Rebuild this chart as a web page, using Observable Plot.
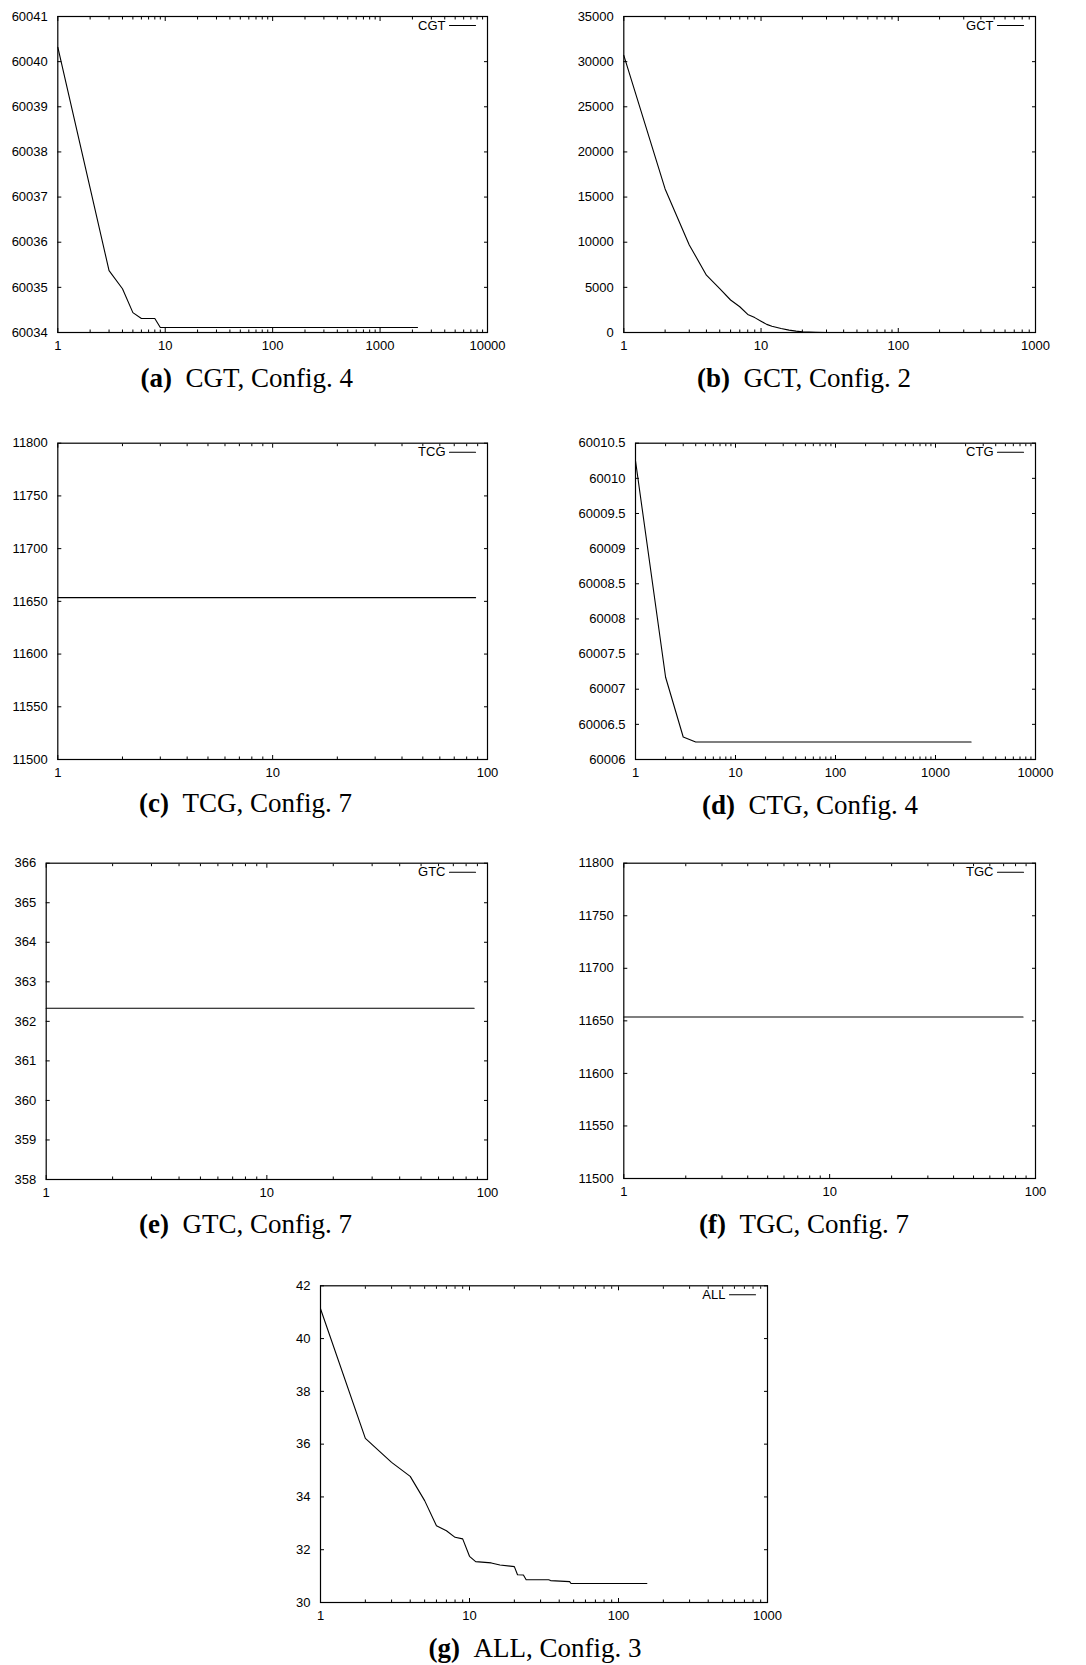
<!DOCTYPE html>
<html><head><meta charset="utf-8">
<script src="https://cdn.jsdelivr.net/npm/d3@7"></script>
<script src="https://cdn.jsdelivr.net/npm/@observablehq/plot@0.6"></script>
<style>
body{margin:0;background:#fff;}
#page{position:relative;width:1086px;height:1665px;overflow:hidden;background:#fff}
.panel{position:absolute}
.cap{position:absolute;font-family:"Liberation Serif","Times New Roman",serif;font-size:27px;line-height:27px;white-space:nowrap;color:#000;transform:translateX(-50%)}
.cap b{font-weight:bold}
</style></head><body><div id="page"></div><script>
// ---------- data ----------
const cgtX = [1, 2, 3, 4, 5, 6, 8, 9, 2230];
const cgtY = [60040.32, 60037.2, 60035.37, 60034.97, 60034.44, 60034.31, 60034.31, 60034.11, 60034.11];

const gctX = [1, 2, 3, 4, 5, 6, 7, 8, 9, 10, 11, 12, 14, 16, 18, 20, 25, 30, 270];
const gctY = [30700, 15900, 9700, 6350, 4850, 3600, 2850, 2000, 1650, 1250, 900, 700, 450, 260, 150, 70, 30, 0, 0];

const tcgX = [1, 88];
const tcgY = [11653.5, 11653.5];

const ctgX = [1, 2, 3, 4, 2270];
const ctgY = [60010.25, 60007.17, 60006.32, 60006.25, 60006.25];

const gtcX = [1, 87];
const gtcY = [362.33, 362.33];

const tgcX = [1, 87];
const tgcY = [11653.6, 11653.6];

const allX = [1, 2, 3, 4, 5, 6, 7, 8, 9, 10, 11, 14, 16, 20, 21, 23, 24, 34, 35, 47, 48, 155];
const allY = [41.13, 36.22, 35.31, 34.78, 33.86, 32.91, 32.72, 32.47, 32.41, 31.75, 31.55, 31.50, 31.42, 31.36, 31.05, 31.04, 30.86, 30.86, 30.83, 30.79, 30.72, 30.72];

// tick labels
const xTicks4 = [1, 10, 100, 1000, 10000];
const xTicks3 = [1, 10, 100, 1000];
const xTicks2 = [1, 10, 100];
const yTicksCGT = [60034, 60035, 60036, 60037, 60038, 60039, 60040, 60041];
const yTicksGCT = [0, 5000, 10000, 15000, 20000, 25000, 30000, 35000];
const yTicksTCG = [11500, 11550, 11600, 11650, 11700, 11750, 11800];
const yTicksCTG = [60006, 60006.5, 60007, 60007.5, 60008, 60008.5, 60009, 60009.5, 60010, 60010.5];
const yTicksGTC = [358, 359, 360, 361, 362, 363, 364, 365, 366];
const yTicksALL = [30, 32, 34, 36, 38, 40, 42];

const labels = ["CGT", "GCT", "TCG", "CTG", "GTC", "TGC", "ALL"];
const captionTags = ["(a)", "(b)", "(c)", "(d)", "(e)", "(f)", "(g)"];
const captionTexts = ["CGT, Config. 4", "GCT, Config. 2", "TCG, Config. 7", "CTG, Config. 4", "GTC, Config. 7", "TGC, Config. 7", "ALL, Config. 3"];

// ---------- layout ----------
const panels = [
  {xs: cgtX, ys: cgtY, xTicks: xTicks4, yTicks: yTicksCGT, ox: 0,   oy: 0,    L: 57.3,  T: 16,     R: 487.3, B: 332.3,  capX: 246.7, capB: 388},
  {xs: gctX, ys: gctY, xTicks: xTicks3, yTicks: yTicksGCT, ox: 540, oy: 0,    L: 623.3, T: 16,     R: 1035,  B: 332.3,  capX: 804,   capB: 388},
  {xs: tcgX, ys: tcgY, xTicks: xTicks2, yTicks: yTicksTCG, ox: 0,   oy: 426,  L: 57.3,  T: 442.7,  R: 487.3, B: 759.3,  capX: 245.5, capB: 812.5},
  {xs: ctgX, ys: ctgY, xTicks: xTicks4, yTicks: yTicksCTG, ox: 540, oy: 426,  L: 635,   T: 442.7,  R: 1035,  B: 759.3,  capX: 810,   capB: 815},
  {xs: gtcX, ys: gtcY, xTicks: xTicks2, yTicks: yTicksGTC, ox: 0,   oy: 846,  L: 45.7,  T: 862.7,  R: 487.3, B: 1179.3, capX: 245.5, capB: 1233.3},
  {xs: tgcX, ys: tgcY, xTicks: xTicks2, yTicks: yTicksTCG, ox: 540, oy: 846,  L: 623.3, T: 862.7,  R: 1035,  B: 1178.3, capX: 804,   capB: 1233.3},
  {xs: allX, ys: allY, xTicks: xTicks3, yTicks: yTicksALL, ox: 270, oy: 1269, L: 320,   T: 1285.3, R: 767.3, B: 1601.7, capX: 535,   capB: 1658}
];

const lineShape = {draw(context, l) { context.moveTo(0, 0); context.lineTo(0, -l); }};
const fmt = d => String(d);
const blank = () => "";
const page = document.getElementById("page");

panels.forEach((p, i) => {
  const ml = p.L - p.ox, mt = p.T - p.oy, mr = 30, mb = 30;
  const w = Math.round(ml + (p.R - p.L) + mr);
  const h = Math.round(mt + (p.B - p.T) + mb);
  const data = p.xs.map((x, j) => ({x, y: p.ys[j]}));
  const minor = [];
  for (let k = 0; k < p.xTicks.length - 1; k++) for (let m = 2; m <= 9; m++) minor.push(p.xTicks[k] * m);
  const yDom = [p.yTicks[0], p.yTicks[p.yTicks.length - 1]];
  const xDom = [p.xTicks[0], p.xTicks[p.xTicks.length - 1]];
  const chart = Plot.plot({
    width: w, height: h,
    marginLeft: ml, marginTop: mt, marginRight: mr, marginBottom: mb,
    x: {type: "log", domain: xDom},
    y: {domain: yDom},
    style: {fontFamily: "'Liberation Sans', Arial, sans-serif", fontSize: "13px", color: "#000", background: "transparent", overflow: "visible"},
    marks: [
      Plot.axisX({anchor: "bottom", ticks: p.xTicks, tickSize: -4, tickPadding: 12, tickFormat: fmt, label: null, strokeWidth: 1}),
      Plot.axisX({anchor: "top", ticks: p.xTicks, tickSize: -4, tickFormat: blank, label: null}),
      Plot.axisX({anchor: "bottom", ticks: minor, tickSize: -2.5, tickFormat: blank, label: null}),
      Plot.axisX({anchor: "top", ticks: minor, tickSize: -2.5, tickFormat: blank, label: null}),
      Plot.axisY({anchor: "left", ticks: p.yTicks, tickSize: -4, tickPadding: 14, tickFormat: fmt, label: null}),
      Plot.axisY({anchor: "right", ticks: p.yTicks, tickSize: -4, tickFormat: blank, label: null}),
      Plot.line(data, {x: "x", y: "y", stroke: "#000", strokeWidth: 1.1}),
      Plot.text([labels[i]], {frameAnchor: "top-right", dx: -42, dy: 9, textAnchor: "end", lineAnchor: "middle", fill: "#000"}),
      Plot.vector([labels[i]], {frameAnchor: "top-right", dx: -12, dy: 9, length: 26, rotate: -90, anchor: "start", shape: lineShape, stroke: "#000", strokeWidth: 1.1}),
      Plot.frame({stroke: "#000", strokeWidth: 1.2})
    ]
  });
  const div = document.createElement("div");
  div.className = "panel";
  div.style.left = p.ox + "px";
  div.style.top = p.oy + "px";
  div.appendChild(chart);
  page.appendChild(div);

  const cap = document.createElement("div");
  cap.className = "cap";
  cap.style.left = p.capX + "px";
  cap.style.top = (p.capB - 22.6) + "px";
  const b = document.createElement("b");
  b.textContent = captionTags[i];
  cap.appendChild(b);
  cap.appendChild(document.createTextNode("\u2002" + captionTexts[i]));
  page.appendChild(cap);
});
</script></body></html>
